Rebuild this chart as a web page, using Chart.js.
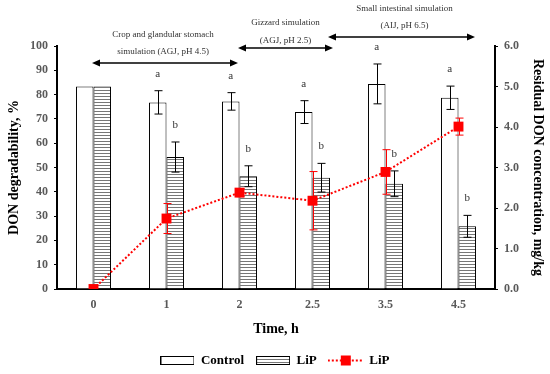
<!DOCTYPE html>
<html>
<head>
<meta charset="utf-8">
<script src="https://cdn.jsdelivr.net/npm/chart.js@4.4.0/dist/chart.umd.min.js"></script>
<style>
  html, body { margin: 0; padding: 0; background: #fff; }
</style>
</head>
<body>
<canvas id="grafico" width="550" height="374"></canvas>
<script>
// Datos
var categorias = ['0', '1', '2', '2.5', '3.5', '4.5'];
var controlValores = [83.3, 76.8, 77.2, 72.8, 84.4, 78.7];
var controlErrores = [0, 4.8, 3.6, 4.7, 8.2, 4.8];
var lipValores = [83.3, 54.3, 46.4, 45.8, 43.3, 25.8];
var lipErrores = [0, 6.2, 4.3, 5.9, 5.3, 4.5];
var residuoValores = [0, 1.74, 2.38, 2.18, 2.89, 4.01];
var residuoErrores = [0, 0.37, 0.1, 0.72, 0.55, 0.21];
var letrasControl = ['', 'a', 'a', 'a', 'a', 'a'];
var letrasLip = ['', 'b', 'b', 'b', 'b', 'b'];
var etapasTexto = [
    ['Crop and glandular stomach', 'simulation (AGJ, pH 4.5)'],
    ['Gizzard simulation', '(AGJ, pH 2.5)'],
    ['Small intestinal simulation', '(AIJ, pH 6.5)']
];

var serif = '"Liberation Serif", "DejaVu Serif", serif';

function crearCanvas(w, h, dibujar) {
    var c = document.createElement('canvas');
    c.width = w;
    c.height = h;
    dibujar(c.getContext('2d'));
    return c;
}

function rayado(c) {
    var p = crearCanvas(4, 3, function (g) {
        g.fillStyle = '#fff';
        g.fillRect(0, 0, 4, 3);
        g.fillStyle = '#777';
        g.fillRect(0, 0, 4, 1);
    });
    return c.createPattern(p, 'repeat');
}

var ctx = document.getElementById('grafico').getContext('2d');

// iconos de la leyenda
var iconoControl = crearCanvas(34, 9, function (g) {
    g.fillStyle = '#fff';
    g.fillRect(0, 0, 34, 9);
    g.strokeStyle = '#000';
    g.strokeRect(0.5, 0.5, 33, 8);
});
var iconoLip = crearCanvas(34, 9, function (g) {
    g.fillStyle = rayado(g);
    g.fillRect(0, 0, 34, 9);
    g.strokeStyle = '#000';
    g.strokeRect(0.5, 0.5, 33, 8);
});
var iconoLinea = crearCanvas(36, 11, function (g) {
    g.strokeStyle = '#ff0000';
    g.lineWidth = 2;
    g.setLineDash([2, 2]);
    g.beginPath();
    g.moveTo(0, 5.5);
    g.lineTo(36, 5.5);
    g.stroke();
    g.fillStyle = '#ff0000';
    g.fillRect(13, 0.5, 10, 10);
});

var barrasError = {
    id: 'barrasError',
    afterDatasetDraw: function (chart, args) {
        var errores = [controlErrores, lipErrores, residuoErrores][args.index];
        var valores = chart.data.datasets[args.index].data;
        var escala = chart.scales[args.meta.yAxisID];
        var c = chart.ctx;
        c.save();
        c.strokeStyle = args.index === 2 ? '#ff0000' : '#000';
        c.lineWidth = 1;
        args.meta.data.forEach(function (el, i) {
            if (!errores[i]) return;
            var x = Math.round(el.x) + 0.5;
            var y1 = escala.getPixelForValue(valores[i] + errores[i]);
            var y2 = escala.getPixelForValue(valores[i] - errores[i]);
            c.beginPath();
            c.moveTo(x, y1); c.lineTo(x, y2);
            c.moveTo(x - 4, y1); c.lineTo(x + 4, y1);
            c.moveTo(x - 4, y2); c.lineTo(x + 4, y2);
            c.stroke();
        });
        c.restore();
    }
};

var letras = {
    id: 'letras',
    afterDatasetsDraw: function (chart) {
        var c = chart.ctx;
        var y = chart.scales.y;
        c.save();
        c.font = '11px ' + serif;
        c.fillStyle = '#333';
        c.textAlign = 'center';
        c.textBaseline = 'middle';
        [[0, letrasControl, controlValores, controlErrores], [1, letrasLip, lipValores, lipErrores]].forEach(function (s) {
            chart.getDatasetMeta(s[0]).data.forEach(function (el, i) {
                if (!s[1][i]) return;
                c.fillText(s[1][i], el.x, y.getPixelForValue(s[2][i] + s[3][i]) - 17);
            });
        });
        c.restore();
    }
};

function flecha(c, x1, x2, y) {
    c.beginPath();
    c.moveTo(x1 + 6, y);
    c.lineTo(x2 - 6, y);
    c.stroke();
    c.beginPath();
    c.moveTo(x1, y); c.lineTo(x1 + 8, y - 3.5); c.lineTo(x1 + 8, y + 3.5); c.closePath();
    c.moveTo(x2, y); c.lineTo(x2 - 8, y - 3.5); c.lineTo(x2 - 8, y + 3.5); c.closePath();
    c.fill();
}

var etapas = {
    id: 'etapas',
    afterDraw: function (chart) {
        var x = chart.scales.x;
        var c = chart.ctx;
        var tramos = [
            { desde: x.getPixelForValue(0) - 1.5, hasta: x.getPixelForValue(2) - 1.5, y: 63, lineas: [35, 52], cx: -2 },
            { desde: x.getPixelForValue(2) - 1.5, hasta: x.getPixelForValue(3) + 20.5, y: 48, lineas: [23, 41], cx: 0 },
            { desde: x.getPixelForValue(3) + 15.5, hasta: x.getPixelForValue(5) + 16.5, y: 37, lineas: [9, 26], cx: 3 }
        ];
        c.save();
        c.strokeStyle = '#000';
        c.fillStyle = '#000';
        c.lineWidth = 1.5;
        c.font = '9px ' + serif;
        c.textAlign = 'center';
        c.textBaseline = 'middle';
        tramos.forEach(function (t, i) {
            flecha(c, t.desde, t.hasta, t.y);
            var mx = (t.desde + t.hasta) / 2 + t.cx;
            c.fillStyle = '#333';
            c.fillText(etapasTexto[i][0], mx, t.lineas[0]);
            c.fillText(etapasTexto[i][1], mx, t.lineas[1]);
            c.fillStyle = '#000';
        });
        c.restore();
    }
};

var chart = new Chart(ctx, {
    type: 'bar',
    data: {
        labels: categorias,
        datasets: [{
            label: 'Control',
            data: controlValores,
            backgroundColor: '#fff',
            borderColor: '#000',
            borderWidth: 1,
            yAxisID: 'y',
            order: 1
        }, {
            label: 'LiP',
            data: lipValores,
            backgroundColor: rayado(ctx),
            borderColor: '#000',
            borderWidth: 1,
            yAxisID: 'y',
            order: 1
        }, {
            type: 'line',
            label: 'LiP',
            data: residuoValores,
            borderColor: '#ff0000',
            borderWidth: 2,
            borderDash: [2, 2],
            backgroundColor: '#ff0000',
            pointStyle: 'rect',
            pointRadius: 7,
            pointBackgroundColor: '#ff0000',
            pointBorderWidth: 0,
            tension: 0,
            yAxisID: 'y1',
            order: 0
        }]
    },
    options: {
        responsive: false,
        animation: false,
        layout: { padding: { top: 46, left: 0, right: 0, bottom: 0 } },
        datasets: {
            bar: { categoryPercentage: 0.48, barPercentage: 1 }
        },
        plugins: {
            tooltip: { enabled: false },
            legend: {
                position: 'bottom',
                maxHeight: 32,
                labels: {
                    usePointStyle: true,
                    pointStyleWidth: 34,
                    padding: 12,
                    color: '#000',
                    font: { family: serif, size: 13, weight: 'bold' },
                    generateLabels: function () {
                        return [
                            { text: 'Control', pointStyle: iconoControl, fillStyle: '#fff', strokeStyle: '#000', lineWidth: 0, datasetIndex: 0 },
                            { text: 'LiP', pointStyle: iconoLip, fillStyle: '#fff', strokeStyle: '#000', lineWidth: 0, datasetIndex: 1 },
                            { text: 'LiP', pointStyle: iconoLinea, fillStyle: '#f00', strokeStyle: '#f00', lineWidth: 0, datasetIndex: 2 }
                        ];
                    }
                }
            }
        },
        scales: {
            x: {
                afterFit: function (s) { s.height = 53; },
                grid: { display: false, drawTicks: false },
                border: { display: true, color: '#000', width: 2 },
                ticks: { color: '#595959', padding: 9, font: { family: serif, size: 12, weight: 'bold' } },
                title: {
                    display: true,
                    text: 'Time, h',
                    color: '#000',
                    padding: { top: 4, bottom: 4 },
                    font: { family: serif, size: 14, weight: 'bold' }
                }
            },
            y: {
                position: 'left',
                min: 0,
                max: 100,
                afterFit: function (s) { s.width = 57; },
                grid: { drawOnChartArea: false, drawTicks: true, tickLength: 3, color: '#000' },
                border: { display: true, color: '#000', width: 2 },
                ticks: { stepSize: 10, color: '#595959', padding: 6, font: { family: serif, size: 12, weight: 'bold' } },
                title: {
                    display: true,
                    text: 'DON degradability, %',
                    color: '#000',
                    padding: { top: 6, bottom: 0 },
                    font: { family: serif, size: 14, weight: 'bold' }
                }
            },
            y1: {
                position: 'right',
                min: 0,
                max: 6,
                afterFit: function (s) { s.width = 55; },
                grid: { drawOnChartArea: false, drawTicks: true, tickLength: 3, color: '#000' },
                border: { display: true, color: '#000', width: 2 },
                ticks: {
                    stepSize: 1,
                    color: '#595959',
                    padding: 6,
                    font: { family: serif, size: 12, weight: 'bold' },
                    callback: function (v) { return v.toFixed(1); }
                },
                title: {
                    display: true,
                    text: 'Residual DON concentration, mg/kg',
                    color: '#000',
                    padding: { top: 4, bottom: 0 },
                    font: { family: serif, size: 14, weight: 'bold' }
                }
            }
        }
    },
    plugins: [barrasError, letras, etapas]
});
</script>
</body>
</html>
